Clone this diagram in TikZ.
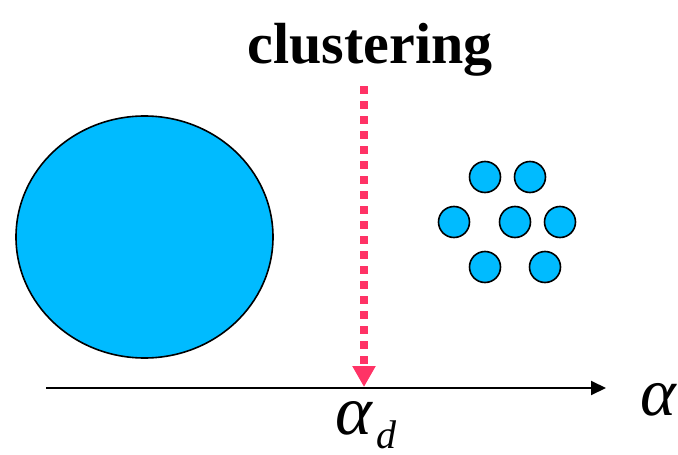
\documentclass[tikz,border=0pt]{standalone}
\usepackage{fontspec}
\setmainfont{Liberation Serif}
\usetikzlibrary{positioning,arrows.meta,shapes.geometric}
\definecolor{dropblue}{HTML}{00BBFF}
\definecolor{cutpink}{HTML}{FF3366}

\begin{document}
\begin{tikzpicture}[
  x=1pt,y=-1pt,
  bigDrop/.style={ellipse,draw=black,line width=1.6pt,fill=dropblue,
                  minimum width=257pt,minimum height=242pt,inner sep=0pt},
  smallDrop/.style={circle,draw=black,line width=1.6pt,fill=dropblue,
                    minimum size=31pt,inner sep=0pt},
  axisArr/.style={-{Triangle[length=15pt,width=14pt]},draw=black,line width=2pt},
  cutArr/.style={-{Triangle[length=21pt,width=22pt]},draw=cutpink,
                 line width=8pt,dash pattern=on 8pt off 7pt},
  lbl/.style={inner sep=0pt,anchor=base},
]
\useasboundingbox (0,0) rectangle (678,455);

% title
\node[lbl,font=\fontsize{58}{58}\selectfont\bfseries] (title) at (370,63) {clustering};

% one large drop on the left
\node[bigDrop] (big) at (144.5,237) {};

% small drops on the right
\node[smallDrop] (s1) at (485,177) {};
\node[smallDrop] (s2) at (530,177) {};
\node[smallDrop] (s3) at (454,222) {};
\node[smallDrop] (s4) at (515,222) {};
\node[smallDrop] (s5) at (560,222) {};
\node[smallDrop] (s6) at (485,267) {};
\node[smallDrop] (s7) at (545,267) {};

% axis
\coordinate (axL) at (46,388);
\coordinate (axR) at (606,388);
\draw[axisArr] (axL) -- (axR);
\node[lbl,font=\fontsize{68}{68}\selectfont\itshape,anchor=base west] (alpha) at (640,415) {α};

% critical value
\coordinate (cutTop) at (364,86);
\coordinate (cutBot) at (364,387);
\draw[cutArr] (cutTop) -- (cutBot);
\node[lbl,font=\fontsize{70}{70}\selectfont\itshape,anchor=base west] (alphaD) at (335,434)
  {α\kern5pt\raisebox{-14pt}{\fontsize{40}{40}\selectfont d}};
\end{tikzpicture}
\end{document}
